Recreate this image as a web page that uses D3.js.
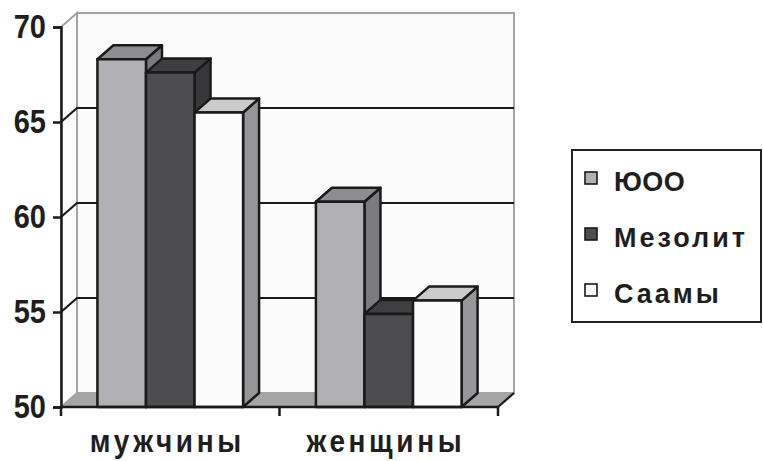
<!DOCTYPE html>
<html>
<head>
<meta charset="utf-8">
<script src="https://cdn.jsdelivr.net/npm/d3@7"></script>
<style>
  html, body { margin: 0; padding: 0; background: #ffffff; }
  svg { display: block; }
  text { font-family: "Liberation Sans", Arial, sans-serif; font-weight: bold; fill: #1e1e1e; }
</style>
</head>
<body>
<svg id="chart" width="763" height="461"></svg>
<script>
// Categories and series
const categories = ["мужчины", "женщины"];
const seriesNames = ["ЮОО", "Мезолит", "Саамы"];
const valuesYUOO = [68.3, 60.8];
const valuesMezolit = [67.6, 54.9];
const valuesSaamy = [65.5, 55.6];
const yTicks = [50, 55, 60, 65, 70];

const seriesValues = [valuesYUOO, valuesMezolit, valuesSaamy];

// Face shades per series: front, top, side
const shades = [
  { front: "#b1b1b5", top: "#8d8d8f", side: "#7b7b7d" },
  { front: "#4d4d4f", top: "#3f3f41", side: "#38383a" },
  { front: "#fbfbfb", top: "#cbcbcb", side: "#969698" }
];

const svg = d3.select("#chart");

const x0 = 61, x1 = 498;          // front x-axis extent
const dx = 16, dy = -14;          // depth offset of the 3D box
const y = d3.scaleLinear().domain([50, 70]).range([407, 27]);
const xCat = d3.scaleBand().domain(categories).range([x0, x1]).padding(0);
const xSer = d3.scaleBand().domain(seriesNames).range([0, xCat.bandwidth()])
  .paddingInner(0).paddingOuter(0.75);

const yBase = y(50), yTop = y(70);
const inkColor = "#1a1a1a";
const wallEdge = "#a4a4a6";

// Back wall
svg.append("rect")
  .attr("x", x0 + dx).attr("y", yTop + dy)
  .attr("width", x1 - x0).attr("height", yBase - yTop)
  .attr("fill", "#fbfbfb").attr("stroke", wallEdge).attr("stroke-width", 2);

// Side wall
svg.append("path")
  .attr("d", `M${x0},${yTop}L${x0 + dx},${yTop + dy}L${x0 + dx},${yBase + dy}L${x0},${yBase}Z`)
  .attr("fill", "#fdfdfd").attr("stroke", wallEdge).attr("stroke-width", 2);

// Floor
svg.append("path")
  .attr("d", `M${x0},${yBase}L${x0 + dx},${yBase + dy}L${x1 + dx},${yBase + dy}L${x1},${yBase}Z`)
  .attr("fill", "#a5a5a7");

// Gridlines on side and back walls
yTicks.filter(t => t > 50 && t < 70).forEach(t => {
  svg.append("path")
    .attr("d", `M${x0},${y(t)}L${x0 + dx},${y(t) + dy}L${x1 + dx},${y(t) + dy}`)
    .attr("fill", "none").attr("stroke", inkColor).attr("stroke-width", 2.2);
});

// Floor right edge
svg.append("line")
  .attr("x1", x1).attr("y1", yBase).attr("x2", x1 + dx).attr("y2", yBase + dy)
  .attr("stroke", inkColor).attr("stroke-width", 2.2);

// Bars, painted left to right so each block hides the side of its neighbour
const bars = [];
categories.forEach((c, ci) => {
  seriesNames.forEach((s, si) => {
    bars.push({ c, s, si, v: seriesValues[si][ci] });
  });
});

const barG = svg.append("g");
bars.forEach(b => {
  const bx = xCat(b.c) + xSer(b.s);
  const w = xSer.bandwidth();
  const yv = y(b.v);
  const g = barG.append("g")
    .attr("stroke", inkColor).attr("stroke-width", 2.5).attr("stroke-linejoin", "round");
  g.append("path")
    .attr("d", `M${bx + w},${yv}L${bx + w + dx},${yv + dy}L${bx + w + dx},${yBase + dy}L${bx + w},${yBase}Z`)
    .attr("fill", shades[b.si].side);
  g.append("path")
    .attr("d", `M${bx},${yv}L${bx + dx},${yv + dy}L${bx + w + dx},${yv + dy}L${bx + w},${yv}Z`)
    .attr("fill", shades[b.si].top);
  g.append("rect")
    .attr("x", bx).attr("y", yv).attr("width", w).attr("height", yBase - yv)
    .attr("fill", shades[b.si].front);
});

// Y axis
const yAxis = d3.axisLeft(y).tickValues(yTicks).tickSize(8).tickPadding(7).tickFormat(d3.format("d"));
const gy = svg.append("g").attr("transform", `translate(${x0},0)`).call(yAxis);
gy.select(".domain").attr("stroke", inkColor).attr("stroke-width", 2.5);
gy.selectAll(".tick line").attr("stroke", inkColor).attr("stroke-width", 2.5);
gy.selectAll(".tick text")
  .attr("font-size", 29).attr("font-family", "Liberation Sans, Arial, sans-serif")
  .attr("font-weight", "bold").attr("fill", "#1e1e1e")
  .attr("dy", null).attr("y", 0)
  .attr("transform", "translate(0,10) scale(1,1.15)");

// X axis with category boundaries as ticks
const xAxisLine = svg.append("g");
xAxisLine.append("line")
  .attr("x1", x0).attr("y1", yBase).attr("x2", x1).attr("y2", yBase)
  .attr("stroke", inkColor).attr("stroke-width", 2.5);
const boundaries = [x0, xCat(categories[1]), x1];
boundaries.forEach(bx => {
  xAxisLine.append("line")
    .attr("x1", bx).attr("y1", yBase).attr("x2", bx).attr("y2", yBase + 9)
    .attr("stroke", inkColor).attr("stroke-width", 2.5);
});

// Category labels
categories.forEach(c => {
  svg.append("text")
    .attr("x", 0).attr("y", 0)
    .attr("text-anchor", "middle")
    .attr("font-size", 28).attr("letter-spacing", 3.6)
    .attr("transform", `translate(${xCat(c) + xCat.bandwidth() / 2 - 3},${452}) scale(1,1.15)`)
    .text(c);
});

// Legend
const legend = svg.append("g");
legend.append("rect")
  .attr("x", 572).attr("y", 150).attr("width", 189).attr("height", 172)
  .attr("fill", "#ffffff").attr("stroke", "#222222").attr("stroke-width", 2);
seriesNames.forEach((s, i) => {
  const ly = 178 + i * 56;
  legend.append("rect")
    .attr("x", 585).attr("y", ly - 6).attr("width", 12).attr("height", 12)
    .attr("fill", shades[i].front).attr("stroke", inkColor).attr("stroke-width", 1.6);
  legend.append("text")
    .attr("x", 0).attr("y", 0)
    .attr("font-size", 27).attr("letter-spacing", i === 0 ? 0.5 : 3)
    .attr("transform", `translate(614,${ly + 13}) scale(1,1.05)`)
    .text(s);
});
</script>
</body>
</html>
